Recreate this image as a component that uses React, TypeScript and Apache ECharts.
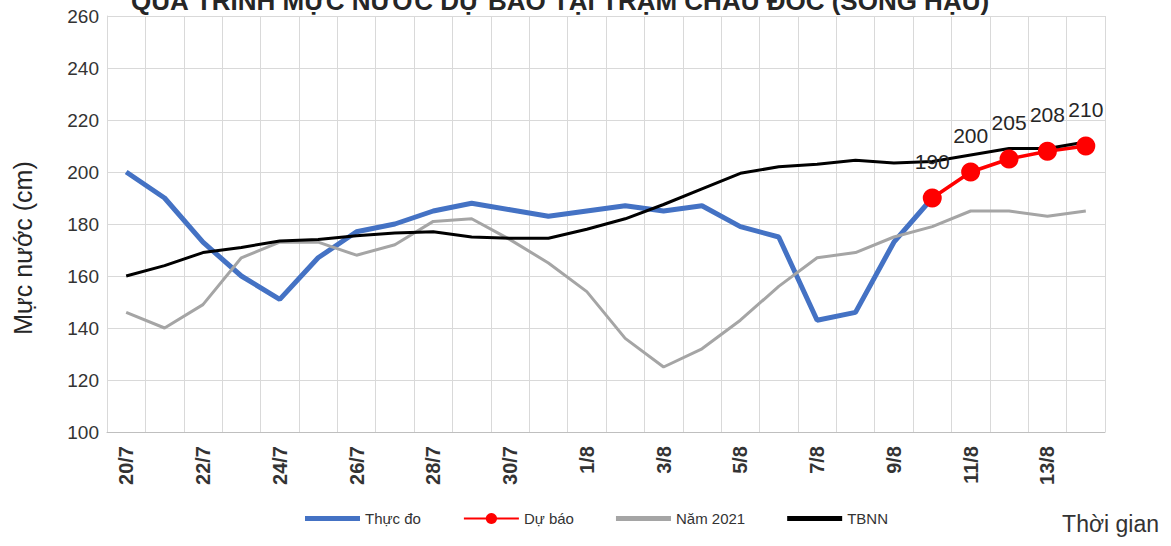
import React, { useEffect, useRef } from "react";
import * as echarts from "echarts";

const categories = [
  "20/7", "21/7", "22/7", "23/7", "24/7", "25/7", "26/7", "27/7", "28/7", "29/7", "30/7", "31/7",
  "1/8", "2/8", "3/8", "4/8", "5/8", "6/8", "7/8", "8/8", "9/8", "10/8", "11/8", "12/8", "13/8", "14/8",
];

const thucDo = [
  200, 190, 173, 160, 151, 167, 177, 180, 185, 188, 185.5, 183,
  185, 187, 185, 187, 179, 175, 143, 146, 173, 190, null, null, null, null,
];

const duBao = [
  null, null, null, null, null, null, null, null, null, null, null, null,
  null, null, null, null, null, null, null, null, null, 190, 200, 205, 208, 210,
];

const nam2021 = [
  146, 140, 149, 167, 173, 173, 168, 172, 181, 182, 174, 165,
  154, 136, 125, 132, 143, 156, 167, 169, 175, 179, 185, 185, 183, 185,
];

const tbnn = [
  160, 164, 169, 171, 173.5, 174, 175.5, 176.5, 177, 175, 174.5, 174.5,
  178, 182, 187.5, 193.5, 199.5, 202, 203, 204.5, 203.5, 204, 206.5, 209, 209, 211.5,
];

const seriesNames = ["Thực đo", "Dự báo", "Năm 2021", "TBNN"];
const titleText = "QUÁ TRÌNH MỰC NƯỚC DỰ BÁO TẠI TRẠM CHÂU ĐỐC (SÔNG HẬU)";
const yName = "Mực nước (cm)";
const xName = "Thời gian";

const FONT = "'Liberation Sans', Arial, sans-serif";
const LINE_ICON = "path://M0 0H110V10H0Z";

export default function App() {
  const ref = useRef<HTMLDivElement>(null);

  useEffect(() => {
    if (!ref.current) return;
    const chart = echarts.init(ref.current, null, { renderer: "svg" });
    chart.setOption({
      animation: false,
      textStyle: { fontFamily: FONT },
      graphic: [
        {
          type: "text",
          x: 560,
          y: 14,
          style: {
            text: titleText,
            align: "center",
            verticalAlign: "bottom",
            fontSize: 26,
            fontWeight: "bold",
            fontFamily: FONT,
            fill: "#262626",
          },
        },
        {
          type: "text",
          x: 23,
          y: 248,
          rotation: Math.PI / 2,
          style: {
            text: yName,
            align: "center",
            verticalAlign: "middle",
            fontSize: 25,
            fontFamily: FONT,
            fill: "#262626",
          },
        },
        {
          type: "text",
          right: 12,
          top: 512,
          style: {
            text: xName,
            fontSize: 23,
            fontFamily: FONT,
            fill: "#333",
          },
        },
      ],
      grid: { left: 107, right: 66, top: 16, bottom: 114 },
      legend: {
        left: 300,
        top: 506,
        itemWidth: 55,
        itemHeight: 14,
        itemGap: 42,
        textStyle: { fontSize: 15, color: "#333", fontFamily: FONT },
        data: [
          { name: seriesNames[0], icon: LINE_ICON },
          { name: seriesNames[1] },
          { name: seriesNames[2], icon: LINE_ICON },
          { name: seriesNames[3], icon: LINE_ICON },
        ],
      },
      xAxis: {
        type: "category",
        data: categories,
        boundaryGap: true,
        axisLine: { show: true, lineStyle: { color: "#bfbfbf", width: 1 } },
        axisTick: { show: false },
        axisLabel: {
          interval: 1,
          rotate: 90,
          margin: 14,
          fontSize: 20,
          fontWeight: "bold",
          color: "#333",
          fontFamily: FONT,
        },
        splitLine: { show: true, interval: 0, lineStyle: { color: "#d9d9d9", width: 1 } },
      },
      yAxis: {
        type: "value",
        min: 100,
        max: 260,
        interval: 20,
        axisLine: { show: true, lineStyle: { color: "#d9d9d9", width: 1 } },
        axisTick: { show: false },
        axisLabel: { fontSize: 19, color: "#333", margin: 8, fontFamily: FONT },
        splitLine: { show: true, lineStyle: { color: "#d9d9d9", width: 1 } },
      },
      series: [
        {
          name: seriesNames[0],
          type: "line",
          data: thucDo,
          showSymbol: false,
          symbol: "none",
          lineStyle: { color: "#4472C4", width: 5 },
          itemStyle: { color: "#4472C4" },
        },
        {
          name: seriesNames[1],
          type: "line",
          data: duBao,
          symbol: "circle",
          symbolSize: 19,
          lineStyle: { color: "#FF0000", width: 3.5 },
          itemStyle: { color: "#FF0000" },
          label: {
            show: true,
            position: "top",
            distance: 17,
            fontSize: 21,
            color: "#262626",
            fontFamily: FONT,
          },
        },
        {
          name: seriesNames[2],
          type: "line",
          data: nam2021,
          showSymbol: false,
          symbol: "none",
          lineStyle: { color: "#A5A5A5", width: 3 },
          itemStyle: { color: "#A5A5A5" },
        },
        {
          name: seriesNames[3],
          type: "line",
          data: tbnn,
          showSymbol: false,
          symbol: "none",
          lineStyle: { color: "#000000", width: 3 },
          itemStyle: { color: "#000000" },
        },
      ],
    });
    return () => chart.dispose();
  }, []);

  return (
    <div
      ref={ref}
      style={{ position: "fixed", left: 0, top: 0, width: 1171, height: 546, background: "#fff" }}
    />
  );
}
